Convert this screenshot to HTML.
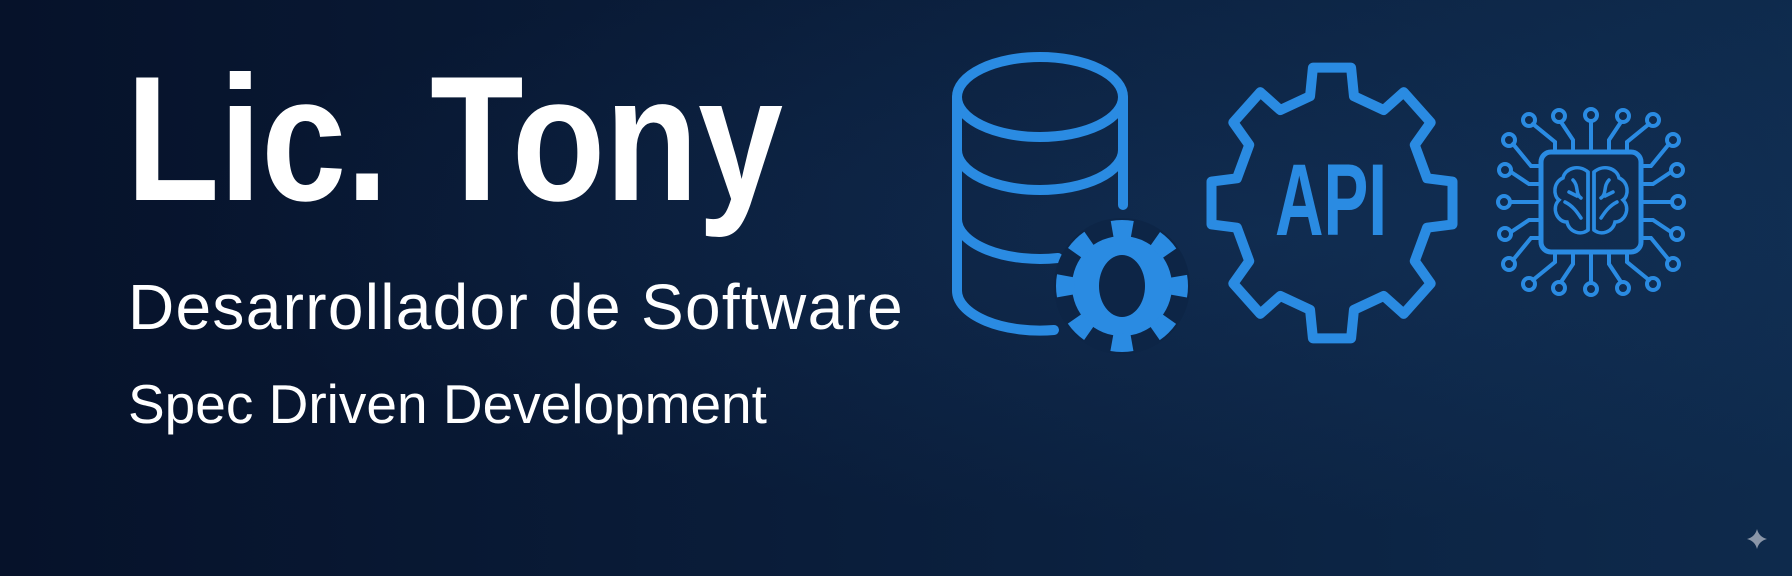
<!DOCTYPE html>
<html><head><meta charset="utf-8"><style>
html,body{margin:0;padding:0;}
body{width:1792px;height:576px;overflow:hidden;position:relative;
background:linear-gradient(90deg,#06122a 0%,#0a1d3a 45%,#0e2a4c 100%);font-family:"Liberation Sans",sans-serif;}
.glow{position:absolute;inset:0;background:radial-gradient(ellipse at 70% 40%,rgba(30,70,120,0.25),rgba(0,0,0,0) 60%);}
.t{position:absolute;color:#fff;white-space:nowrap;transform-origin:0 0;}
#t1{left:126px;top:50px;font-size:178px;line-height:1;font-weight:bold;transform:scaleX(0.86);letter-spacing:-0.5px;}
#t2{left:128px;top:270px;font-size:64px;letter-spacing:1.3px;}
#t3{left:128px;top:372px;font-size:55px;letter-spacing:0px;}
svg{position:absolute;left:0;top:0;}
</style></head><body>
<div class="glow"></div>
<div class="t" id="t1">Lic. Tony</div>
<div class="t" id="t2">Desarrollador de Software</div>
<div class="t" id="t3">Spec Driven Development</div>
<svg width="1792" height="576" viewBox="0 0 1792 576">
<g fill="none" stroke="#2a8be2" stroke-width="10" stroke-linecap="round">
 <ellipse cx="1040" cy="97" rx="83" ry="40"/>
 <path d="M957 97 V290 A83 40 0 0 0 1054 330"/>
 <path d="M1123 97 V205"/>
 <path d="M957 150 A83 40 0 0 0 1123 150"/>
 <path d="M957 218 A83 40 0 0 0 1058 258"/>
</g>
<circle cx="1122" cy="286" r="68" fill="#0d2546"/>
<circle cx="1122" cy="286" r="50" fill="#2a8be2"/>
<circle cx="1122" cy="286" r="57" fill="none" stroke="#2a8be2" stroke-width="18" stroke-dasharray="20 24.76" stroke-dashoffset="10"/>
<ellipse cx="1122" cy="286" rx="23" ry="31" fill="#0d2546"/>

<g transform="translate(1332,203) scale(122,137)">
<polygon fill="none" stroke="#2a8be2" stroke-width="10" stroke-linejoin="round" vector-effect="non-scaling-stroke" points="
.7795,-.18 .9877,-.1564 .9877,.1564 .7795,.18
.6784,.4239 .809,.5878 .5878,.809 .4239,.6784
.18,.7795 .1564,.9877 -.1564,.9877 -.18,.7795
-.4239,.6784 -.5878,.809 -.809,.5878 -.6784,.4239
-.7795,.18 -.9877,.1564 -.9877,-.1564 -.7795,-.18
-.6784,-.4239 -.809,-.5878 -.5878,-.809 -.4239,-.6784
-.18,-.7795 -.1564,-.9877 .1564,-.9877 .18,-.7795
.4239,-.6784 .5878,-.809 .809,-.5878 .6784,-.4239"/>
</g>
<text x="1331" y="235" fill="#2a8be2" font-family="Liberation Sans, sans-serif" font-weight="bold" font-size="102" text-anchor="middle" textLength="112" lengthAdjust="spacingAndGlyphs">API</text>

<g transform="translate(1591,202)" fill="none" stroke="#2a8be2" stroke-width="4" stroke-linecap="round">
 <rect x="-50" y="-50" width="100" height="100" rx="10" stroke-width="5"/>
 <g id="pins">
  <path d="M-36 -50 L-36 -60 L-58 -78"/><circle cx="-62" cy="-82" r="6"/>
  <path d="M-18 -50 L-18 -62 L-30 -80"/><circle cx="-32" cy="-86" r="6"/>
  <path d="M0 -50 V-80"/><circle cx="0" cy="-87" r="6"/>
  <path d="M18 -50 L18 -62 L30 -80"/><circle cx="32" cy="-86" r="6"/>
  <path d="M36 -50 L36 -60 L58 -78"/><circle cx="62" cy="-82" r="6"/>
 </g>
 <use href="#pins" transform="rotate(90)"/>
 <use href="#pins" transform="rotate(180)"/>
 <use href="#pins" transform="rotate(270)"/>
 <g stroke-width="3.5">
  <path d="M-3 -30 C-12 -38 -26 -34 -28 -24 C-38 -20 -38 -6 -32 -2 C-40 6 -34 20 -24 20 C-22 30 -10 34 -3 28 Z"/>
  <path d="M3 -30 C12 -38 26 -34 28 -24 C38 -20 38 -6 32 -2 C40 6 34 20 24 20 C22 30 10 34 3 28 Z"/>
  <path d="M-3 -30 V28 M3 -30 V28"/>
  <path d="M-18 -22 C-12 -16 -16 -8 -10 -4 M-26 0 C-18 4 -14 10 -10 16 M-14 -6 L-22 -10"/>
  <path d="M18 -22 C12 -16 16 -8 10 -4 M26 0 C18 4 14 10 10 16 M14 -6 L22 -10"/>
 </g>
</g>
<path d="M1757 529 Q1759 537 1767 539 Q1759 541 1757 549 Q1755 541 1747 539 Q1755 537 1757 529 Z" fill="#8a96a8"/>
</svg>
</body></html>
